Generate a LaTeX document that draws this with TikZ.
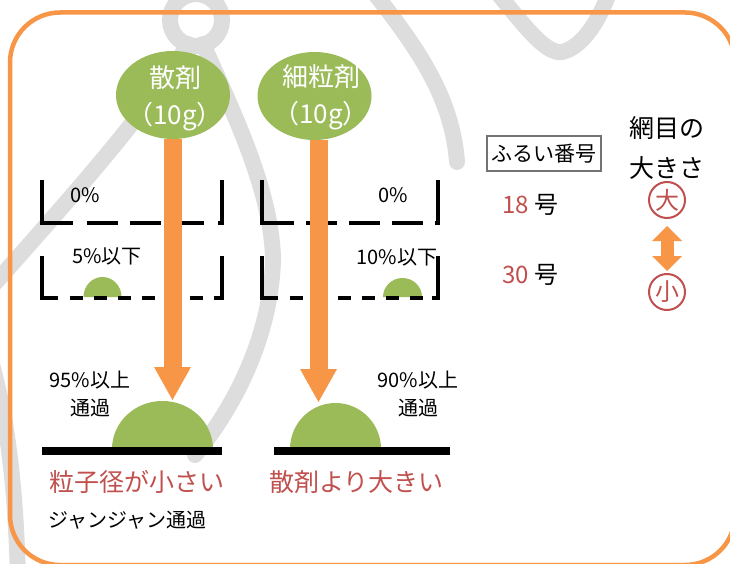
\documentclass[tikz,border=0pt]{standalone}
\usepackage{fontspec}
\setmainfont{Noto Sans CJK JP}
\usetikzlibrary{shapes.geometric,arrows.meta}
\definecolor{frameor}{RGB}{247,150,70}
\definecolor{pgreen}{RGB}{155,187,89}
\definecolor{tred}{RGB}{192,80,77}
\definecolor{bggray}{RGB}{221,221,221}
\newcommand{\fsz}[2]{\fontsize{#1pt}{#2pt}\selectfont}
\tikzset{
  swoosh/.style={draw=bggray, line width=16pt, line cap=round},
  wall/.style={draw=black, line width=4pt},
  pellipse/.style={ellipse, fill=pgreen, minimum width=114pt, minimum height=88pt, inner sep=0pt},
  etext/.style={align=center, text=white, font=\fsz{26}{37}, inner sep=0pt},
  lbl/.style={font=\fsz{20}{28}, inner sep=0pt, align=center},
  bigred/.style={font=\fsz{25}{30}, text=tred, inner sep=0pt},
  boxlbl/.style={draw=black!55, line width=1.6pt, font=\fsz{21}{25}, minimum width=114pt, minimum height=35pt, inner sep=0pt},
  numlbl/.style={font=\fsz{24}{28}, inner sep=0pt},
  meshlbl/.style={font=\fsz{25}{40}, inner sep=0pt, align=center},
  sizecirc/.style={circle, draw=tred, line width=2pt, minimum size=36pt, inner sep=0pt, text=tred, font=\fsz{24}{26}},
  flowarrow/.style={draw=frameor, line width=18pt, -{Triangle[width=37pt,length=33pt,line width=0pt]}},
  dblarrow/.style={draw=frameor, line width=13pt, {Triangle[width=30pt,length=15pt,line width=0pt]}-{Triangle[width=30pt,length=15pt,line width=0pt]}},
  hemi/.style={fill=pgreen}
}
\begin{document}
\begin{tikzpicture}[x=1pt,y=-1pt]
\useasboundingbox (0,0) rectangle (730,564);
\begin{scope}
\clip (0,0) rectangle (730,564);
% background swooshes
\draw[swoosh] (196,20) circle[radius=26];
\draw[swoosh] (-20,300) .. controls (60,210) and (150,110) .. (188,44);
\draw[swoosh] (203,44) .. controls (232,110) and (272,190) .. (273,260) .. controls (271,330) and (240,400) .. (195,455);
\draw[swoosh] (372,-10) .. controls (415,45) and (452,95) .. (457,162);
\draw[swoosh] (495,-10) .. controls (520,20) and (545,55) .. (562,52) .. controls (580,48) and (598,25) .. (610,-10);
\draw[swoosh] (-15,340) .. controls (0,390) and (15,450) .. (18,580);
% frame
\draw[frameor, line width=4.5pt, rounded corners=50pt] (10,12.5) rectangle (735,565);
\end{scope}

% small hemispheres in the 30 sieves
\fill[hemi] (83.5,297) arc[start angle=180, end angle=360, x radius=19, y radius=20] -- cycle;
\fill[hemi] (383,297) arc[start angle=180, end angle=360, x radius=19.5, y radius=19] -- cycle;

% sieves, 散剤
\draw[wall] (42,180) |- (73,223);
\draw[wall, dash pattern=on 31pt off 12pt] (87,223) -- (205,223);
\draw[wall] (218,223) -| (222,180);
\draw[wall] (42,256) |- (58,298);
\draw[wall, dash pattern=on 13pt off 11pt] (70,298) -- (203,298);
\draw[wall] (214,298) -| (222,256);
% sieves, 細粒剤
\draw[wall] (262,180) |- (294,223);
\draw[wall, dash pattern=on 31pt off 12pt] (306,223) -- (425,223);
\draw[wall] (435,223) -| (438,180);
\draw[wall] (262,256) |- (278,298);
\draw[wall, dash pattern=on 13pt off 11pt] (290,298) -- (423,298);
\draw[wall] (432,298) -| (438,256);

% big hemispheres and bars
\fill[hemi] (112,449) arc[start angle=180, end angle=360, x radius=50.5, y radius=48] -- cycle;
\fill[hemi] (290,449) arc[start angle=180, end angle=360, x radius=45.5, y radius=46] -- cycle;
\fill[black] (42,447) rectangle (222,455);
\fill[black] (274,447) rectangle (450,455);

% source ellipses
\node[pellipse] (e1) at (173,95) {};
\node[etext] (e1t) at (175,98.5) {散剤\\（10g）};
\node[pellipse] (e2) at (314.5,96) {};
\node[etext] (e2t) at (321,97) {細粒剤\\（10g）};

% flow arrows
\coordinate (t1) at (172.5,400);
\coordinate (t2) at (318.5,402);
\draw[flowarrow] (e1.south -| t1) -- (t1);
\draw[flowarrow] (e2.south -| t2) -- (t2);

% labels
\node[lbl] (p0a) at (85,195) {0\%};
\node[lbl] (p5) at (107,256) {5\%以下};
\node[lbl] (p0b) at (393,195) {0\%};
\node[lbl] (p10) at (397,257) {10\%以下};
\node[lbl] (p95) at (90,394) {95\%以上\\通過};
\node[lbl] (p90) at (418,394) {90\%以上\\通過};
\node[bigred] (r1) at (137,482) {粒子径が小さい};
\node[bigred] (r2) at (356.5,482) {散剤より大きい};
\node[lbl] (jj) at (127,520) {ジャンジャン通過};

% right legend
\node[boxlbl] (fn) at (544,153.5) {ふるい番号};
\node[numlbl] (n18) at (530,205) {\textcolor{tred}{18} 号};
\node[numlbl] (n30) at (530,275) {\textcolor{tred}{30} 号};
\node[meshlbl] (mesh) at (667,148) {網目の\\大きさ};
\node[sizecirc] (big) at (667,200) {大};
\node[sizecirc] (small) at (667,292) {小};
\draw[dblarrow] ([yshift=-7pt]big.south) -- ([yshift=2pt]small.north);
\end{tikzpicture}
\end{document}
